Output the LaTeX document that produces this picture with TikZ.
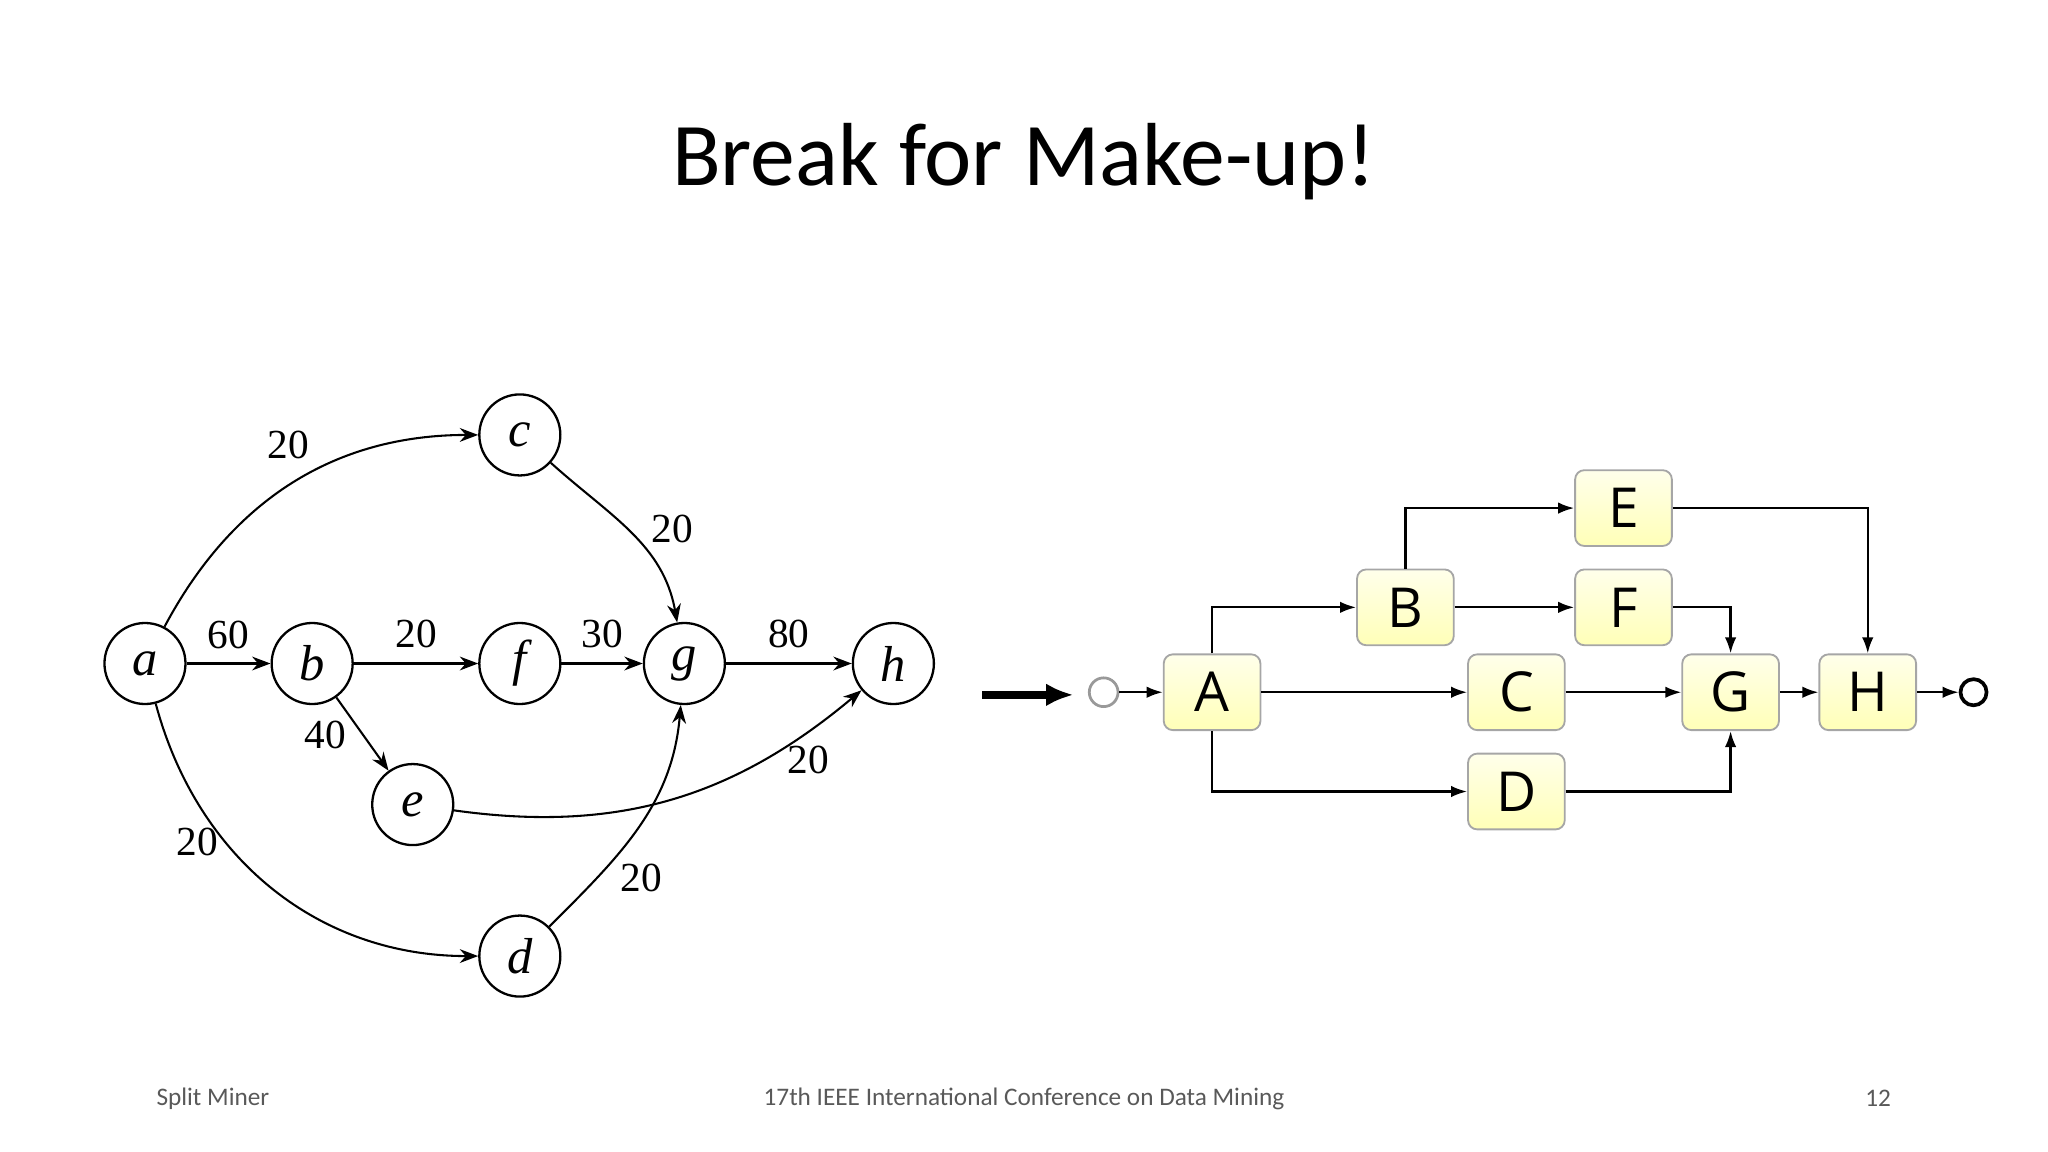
\documentclass[tikz,border=0pt]{standalone}
\usepackage{fontspec}
\setmainfont{Carlito}
\newfontfamily\boxfont{Open Sans}
\newfontfamily\timesfont{Liberation Serif}
\usetikzlibrary{arrows.meta}
\begin{document}
\begin{tikzpicture}[x=0.01cm,y=-0.01cm,
  gnode/.style={circle,draw,line width=0.5pt,minimum size=0.62cm,inner sep=0pt,font=\fontsize{11}{12}\selectfont\timesfont\itshape},
  gedge/.style={draw,line width=0.45pt,-{Stealth[length=4pt,width=3pt]}},
  wlab/.style={font=\fontsize{9}{10}\selectfont\timesfont},
  bbox/.style={draw=gray!70,rounded corners=2pt,top color=yellow!8,bottom color=yellow!28,minimum width=0.74cm,minimum height=0.58cm,inner sep=0pt,font=\fontsize{12}{12}\selectfont\boxfont},
  bedge/.style={draw,line width=0.5pt,-{Latex[length=3.5pt,width=2.5pt]}}]
\useasboundingbox (0,0) rectangle (1568,882);
\node (title) at (784,124) {\fontsize{19.5}{22}\selectfont Break for Make-up!};
\node (f1) at (163,841) {\fontsize{5.5}{6}\selectfont\color{black!65}Split Miner};
\node (f2) at (784,841) {\fontsize{5.5}{6}\selectfont\color{black!65}17th IEEE International Conference on Data Mining};
\node (f3) at (1438,841) {\fontsize{5.5}{6}\selectfont\color{black!65}12};
% left graph
\node[gnode] (a) at (111,508) {a};
\node[gnode] (b) at (239,508) {b};
\node[gnode] (c) at (398,333) {c};
\node[gnode] (f) at (398,508) {f};
\node[gnode] (g) at (524,508) {g};
\node[gnode] (h) at (684,508) {h};
\node[gnode] (e) at (316,616) {e};
\node[gnode] (d) at (398,732) {d};
\path[gedge] (a) to[out=-75,in=180] (d);
\path[gedge] (a) to[out=62,in=180] (c);
\path[gedge] (c) to[out=-42,in=100] (g);
\path[gedge] (a) -- (b);
\path[gedge] (b) -- (f);
\path[gedge] (f) -- (g);
\path[gedge] (g) -- (h);
\path[gedge] (b) -- (e);
\path[gedge] (e) to[out=-8,in=-140] (h);
\path[gedge] (d) to[out=45,in=-95] (g);
\node[wlab] (l1) at (221,341) {20};
\node[wlab] (l2) at (515,405) {20};
\node[wlab] (l3) at (175,486) {60};
\node[wlab] (l4) at (319,485) {20};
\node[wlab] (l5) at (461,485) {30};
\node[wlab] (l6) at (604,485) {80};
\node[wlab] (l7) at (249,563) {40};
\node[wlab] (l8) at (619,582) {20};
\node[wlab] (l9) at (151,645) {20};
\node[wlab] (l10) at (491,672) {20};
% arrow between
\coordinate (p1) at (752,532);
\coordinate (p2) at (822,532);
\draw[line width=1.6pt,-{Latex[length=6pt,width=5pt]}] (p1) -- (p2);
% right graph
\node[circle,draw=gray!80,line width=0.6pt,minimum size=0.22cm,inner sep=0pt] (s) at (845,530) {};
\node[circle,draw,line width=0.8pt,minimum size=0.2cm,inner sep=0pt] (t) at (1511,530) {};
\node[bbox] (A) at (928,530) {A};
\node[bbox] (B) at (1076,465) {B};
\node[bbox] (E) at (1243,389) {E};
\node[bbox] (F) at (1243,465) {F};
\node[bbox] (C) at (1161,530) {C};
\node[bbox] (D) at (1161,606) {D};
\node[bbox] (G) at (1325,530) {G};
\node[bbox] (H) at (1430,530) {H};
\path[bedge] (s) -- (A);
\path[bedge] (A.north) |- (B.west);
\path[bedge] (A.south) |- (D.west);
\path[bedge] (A) -- (C);
\path[bedge] (B) -- (F);
\path[bedge] (B.north) |- (E.west);
\path[bedge] (E.east) -| (H.north);
\path[bedge] (F.east) -| (G.north);
\path[bedge] (C) -- (G);
\path[bedge] (D.east) -| (G.south);
\path[bedge] (G) -- (H);
\path[bedge] (H) -- (t);
\end{tikzpicture}
\end{document}
